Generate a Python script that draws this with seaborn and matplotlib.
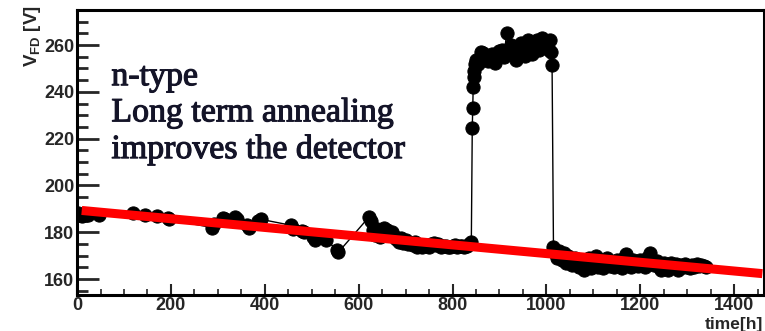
import matplotlib
matplotlib.use("Agg")
import matplotlib.pyplot as plt
import matplotlib.patheffects as pe
import seaborn as sns
import pandas as pd
from matplotlib.ticker import MultipleLocator

sns.set_theme(style="ticks")
plt.rcParams['font.family'] = ['Liberation Sans Narrow', 'Liberation Sans', 'DejaVu Sans']
plt.rcParams['mathtext.fontset'] = 'custom'
plt.rcParams['mathtext.bf'] = 'Liberation Sans:bold'
plt.rcParams['mathtext.rm'] = 'Liberation Sans:bold'

# ---- data ----
time_h = [3, 10, 24, 47, 120, 145, 170, 194, 196, 287, 292, 311, 315, 336, 340, 362, 366, 385, 392,
          455, 460, 480, 484, 502, 506, 526, 531, 554, 557,
          622, 626, 630, 634, 640, 645, 650, 655, 660, 665, 670, 675, 680, 685, 690, 695, 700, 705,
          710, 715, 720, 725, 730, 735, 740, 745, 750, 755, 760, 765, 770, 775, 780, 785, 790, 795,
          800, 805, 810, 815, 820, 825, 830, 835, 840,
          842, 843, 844, 845, 846, 848, 850, 855, 860, 865, 870, 875, 880, 885, 890, 895, 900, 905,
          910, 915, 920, 925, 930, 935, 940, 945, 950, 955, 960, 965, 970, 975, 980, 985, 990, 995,
          1000, 1005, 1008, 1010, 1012,
          1015, 1018, 1022, 1026, 1030, 1034, 1038, 1042, 1046, 1050, 1055, 1060, 1065, 1070, 1075,
          1080, 1085, 1090, 1095, 1100, 1105, 1110, 1115, 1120, 1125, 1130, 1135, 1140, 1145, 1150,
          1155, 1160, 1165, 1170, 1175, 1180, 1185, 1190, 1195, 1200, 1205, 1210, 1215, 1220, 1225,
          1230, 1235, 1240, 1245, 1250, 1255, 1260, 1265, 1270, 1275, 1280, 1285, 1290, 1295, 1300,
          1305, 1310, 1315, 1320, 1325, 1330, 1335, 1340]
vfd = [188, 187, 187.5, 187.5, 188, 187.5, 187, 186, 185.5, 182, 183.5, 186, 185.5, 186.5, 185.5,
       183, 182, 185, 185.5,
       183, 181.5, 180.5, 180, 178, 176.5, 177.5, 176.5, 172.5, 171.5,
       186.5, 185, 181, 179, 181.5, 178, 180, 182, 181, 179, 180, 178.5, 177, 176, 177.5, 175.5,
       176.5, 175, 175.5, 174.5, 176, 173.5, 174, 173.5, 174.5, 174, 173.5, 175, 175.5, 174.5, 175,
       173.5, 174, 174, 173.5, 173.5, 174, 174.5, 173.5, 174, 174, 173.5, 174, 175, 176,
       224.5, 233, 242, 246.5, 249, 252, 253.5, 252, 257, 256.5, 255, 253, 254, 256, 252.5, 255,
       257.5, 258, 255, 265, 258, 260, 256, 253.5, 259, 261, 258, 255.5, 262, 260, 256, 261, 262,
       258, 263, 262, 259, 258, 262, 257, 251.5,
       173.5, 171, 169, 172, 170, 168, 171, 167, 170, 168.5, 166, 169, 167, 165, 168, 164, 166.5,
       169, 164.5, 167.5, 170, 165, 168, 164.5, 166, 169, 165.5, 167, 165, 168, 166, 164.5, 169,
       170.5, 167, 165, 168, 166, 165.5, 168, 166.5, 165, 169, 171, 168, 166, 167.5, 165, 164,
       167, 165.5, 164, 167, 165, 166.5, 164, 166, 165, 166.5, 165, 164.5, 166, 165, 166.5, 165.5,
       166, 165.5, 165]
fit_t = [10, 1460]
fit_v = [189.3, 162.3]

x_ticks = [0, 200, 400, 600, 800, 1000, 1200, 1400]
y_ticks = [160, 180, 200, 220, 240, 260]

df = pd.DataFrame({"t": time_h, "v": vfd})
fit = pd.DataFrame({"t": fit_t, "v": fit_v})

fig = plt.figure(figsize=(7.65, 3.31), dpi=100)
ax = fig.add_axes([0.1007, 0.109, 0.8983, 0.861])

sns.lineplot(data=df, x="t", y="v", ax=ax, estimator=None, sort=False, color="black",
             lw=1, marker="o", markersize=9.5, markeredgecolor="black", markerfacecolor="black",
             zorder=2)
sns.lineplot(data=fit, x="t", y="v", ax=ax, estimator=None, sort=False, color="#ff0000",
             lw=6.5, zorder=3, solid_capstyle="butt")

ax.set_xlim(0, 1464)
ax.set_ylim(153.2, 275)
ax.set_xticks(x_ticks)
ax.set_yticks(y_ticks)
ax.xaxis.set_minor_locator(MultipleLocator(50))
ax.yaxis.set_minor_locator(MultipleLocator(5))
ax.tick_params(axis='y', which='major', direction='in', length=16, width=2, pad=2,
               labelsize=13, right=False)
ax.tick_params(axis='y', which='minor', direction='in', length=8, width=2, right=False)
ax.tick_params(axis='x', which='major', direction='in', length=8, width=1.5, pad=1.5,
               labelsize=13, top=False)
ax.tick_params(axis='x', which='minor', direction='in', length=4, width=1.2, top=False)
for lab in ax.get_xticklabels() + ax.get_yticklabels():
    lab.set_fontweight('bold')
for s in ax.spines.values():
    s.set_linewidth(2.2)
    s.set_color('black')

ax.set_xlabel("")
ax.set_ylabel("")
fig.text(0.998, -0.004, "time[h]", ha="right", va="bottom", fontsize=12.5, fontweight="bold")
fig.text(0.042, 0.985, r"V$_{\mathbf{FD}}$ [V]", ha="center", va="top", rotation=90,
         fontsize=13.5, fontweight="bold")

ax.text(0.05, 0.637, "n-type\nLong term annealing\nimproves the detector",
        transform=ax.transAxes, ha="left", va="center", fontsize=24.4,
        family=["Liberation Serif", "DejaVu Serif"], color="#141428", linespacing=1.24,
        path_effects=[pe.withStroke(linewidth=0.8, foreground="#141428")])

fig.savefig("out.png", dpi=100)
